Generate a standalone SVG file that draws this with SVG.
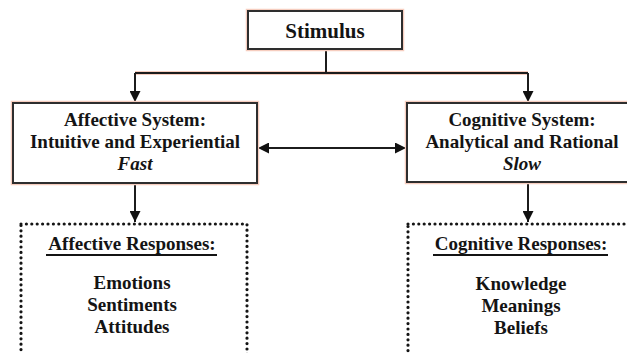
<svg xmlns="http://www.w3.org/2000/svg" width="627" height="353" viewBox="0 0 627 353">
  <style>
    .halo { fill: none; stroke: #f6cdbf; stroke-width: 4.5; }
    .box { fill: #ffffff; stroke: #2e2e2e; stroke-width: 2; }
    .dots { fill: #ffffff; stroke: #151515; stroke-width: 3.2; stroke-linecap: round; stroke-dasharray: 0 5.4; }
    .wire { fill: none; stroke: #1c1c1c; stroke-width: 2; }
    .wire-halo { fill: none; stroke: #f6cdbf; stroke-width: 4; }
    .ul { stroke: #141414; stroke-width: 2; }
  </style>
  <defs>
    <marker id="head" viewBox="0 0 10 10" refX="10" refY="5" markerWidth="6" markerHeight="5.5" orient="auto-start-reverse" markerUnits="strokeWidth">
      <path d="M0,0 L10,5 L0,10 z" fill="#111"/>
    </marker>
  </defs>

  <rect width="627" height="353" fill="#ffffff"/>

  <!-- connectors -->
  <g id="connectors">
    <path class="wire-halo" d="M135,73 H528"/>
    <path class="wire" d="M326,49 V73"/>
    <path class="wire" d="M135,73 H528"/>
    <path class="wire" d="M135,73 V102" marker-end="url(#head)"/>
    <path class="wire" d="M528,73 V102" marker-end="url(#head)"/>
    <path class="wire" d="M258,148 H406" marker-start="url(#head)" marker-end="url(#head)"/>
    <path class="wire" d="M135,183 V222" marker-end="url(#head)"/>
    <path class="wire" d="M528,182 V222" marker-end="url(#head)"/>
  </g>

  <!-- all labels: bold Times-metric serif, centred -->
  <g font-family="Liberation Serif" font-weight="bold" fill="#141414" text-anchor="middle" font-size="19">

    <g id="stimulus">
      <rect class="halo" x="248" y="11" width="154" height="38"/>
      <rect class="box" x="248" y="11" width="154" height="38"/>
      <text x="325" y="38" font-size="21" font-family="Liberation Serif">Stimulus</text>
    </g>

    <g id="affective-system">
      <rect class="halo" x="13" y="103" width="244" height="80"/>
      <rect class="box" x="13" y="103" width="244" height="80"/>
      <text x="135" y="126" font-family="Liberation Serif">Affective System:</text>
      <text x="135" y="148" font-family="Liberation Serif">Intuitive and Experiential</text>
      <text x="135" y="170" font-family="Liberation Serif" font-style="italic">Fast</text>
    </g>

    <g id="cognitive-system">
      <rect class="halo" x="407" y="103" width="232" height="79"/>
      <rect class="box" x="407" y="103" width="232" height="79"/>
      <text x="522" y="126" font-family="Liberation Serif">Cognitive System:</text>
      <text x="522" y="148" font-family="Liberation Serif">Analytical and Rational</text>
      <text x="522" y="170" font-family="Liberation Serif" font-style="italic">Slow</text>
    </g>

    <g id="affective-responses">
      <rect class="dots" x="21" y="224" width="226" height="150"/>
      <text x="132" y="250" font-family="Liberation Serif">Affective Responses:</text>
      <line class="ul" x1="46" y1="255" x2="217" y2="255"/>
      <text x="132" y="289" font-family="Liberation Serif">Emotions</text>
      <text x="132" y="311" font-family="Liberation Serif">Sentiments</text>
      <text x="132" y="333" font-family="Liberation Serif">Attitudes</text>
    </g>

    <g id="cognitive-responses">
      <rect class="dots" x="408" y="224" width="240" height="150"/>
      <text x="521" y="250" font-family="Liberation Serif">Cognitive Responses:</text>
      <line class="ul" x1="433" y1="255" x2="608" y2="255"/>
      <text x="521" y="290" font-family="Liberation Serif">Knowledge</text>
      <text x="521" y="312" font-family="Liberation Serif">Meanings</text>
      <text x="521" y="334" font-family="Liberation Serif">Beliefs</text>
    </g>
  </g>
</svg>
